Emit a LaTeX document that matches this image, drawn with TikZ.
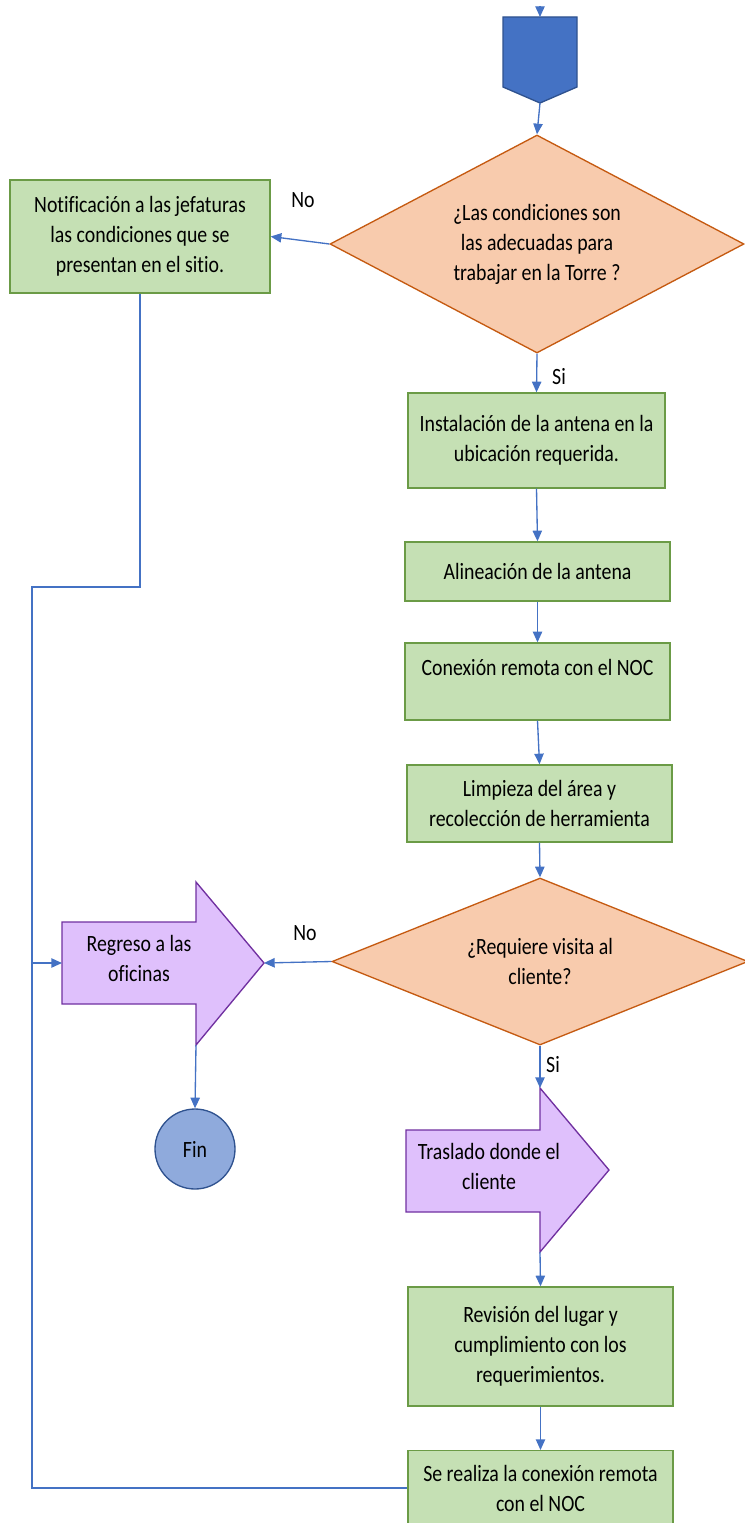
\documentclass[tikz,border=0pt]{standalone}
\usepackage{fontspec}
\setmainfont{Carlito}[FakeStretch=0.85, Ligatures=CommonOff]
\usetikzlibrary{arrows.meta,shapes.geometric}

\definecolor{boxgreen}{HTML}{C5E0B4}
\definecolor{boxgreenline}{HTML}{6B9B46}
\definecolor{decfill}{HTML}{F8CBAD}
\definecolor{decline}{HTML}{C55A11}
\definecolor{arrfill}{HTML}{DFC0FC}
\definecolor{arrline}{HTML}{7030A0}
\definecolor{connblue}{HTML}{4472C4}
\definecolor{pentline}{HTML}{2F528F}
\definecolor{finfill}{HTML}{8FAADC}

\tikzset{every picture/.style={line width=0.75pt},
	txt/.style={font=\fontsize{17.5pt}{22.5pt}\selectfont, align=center, text=black},
	stepbox/.style={txt, draw=boxgreenline, fill=boxgreen, line width=1pt, minimum width=198.75pt, inner sep=0pt},
	decision/.style={txt, diamond, aspect=1.9, draw=decline, fill=decfill, line width=1pt, inner sep=0pt},
	arrowbox/.style={draw=arrline, fill=arrfill, line width=1pt},
	conn/.style={draw=connblue, line width=1pt, -{Triangle[length=8pt,width=7pt]}},
	loopline/.style={draw=connblue, line width=1pt},
	tag/.style={txt}}

\begin{document}
\begin{tikzpicture}[x=0.75pt,y=0.75pt,yscale=-1,xscale=1]
	\useasboundingbox (0,0) rectangle (744,1523);

	%Shape: Off-page connector
	\draw [fill=connblue, draw=pentline, line width=1pt] (503,17) -- (577,17) -- (577,87) -- (540,103) -- (503,87) -- cycle ;
	\coordinate (topin) at (540,6);
	\coordinate (penttop) at (540,17);
	\coordinate (penttip) at (540,103);

	%Shape: Diamond
	\node [decision, minimum width=310.5pt, minimum height=163.5pt] (cond) at (537,244) {¿Las condiciones son\\las adecuadas para\\trabajar en la Torre ?};
	%Shape: Rectangle
	\node [stepbox, minimum width=195pt, minimum height=84.75pt] (notif) at (140,236.5) {Notificación a las jefaturas\\las condiciones que se\\presentan en el sitio.};
	\node [stepbox, minimum width=192.75pt, minimum height=71.25pt] (inst) at (536.5,440.5) {Instalación de la antena en la\\ubicación requerida.};
	\node [stepbox, minimum height=44.25pt] (alin) at (537.5,571.5) {Alineación de la antena};
	\node [stepbox, minimum height=57.75pt, text depth=21pt] (conex) at (537.5,681.5) {Conexión remota con el NOC};
	\node [stepbox, minimum height=57.75pt] (limp) at (539.5,803.5) {Limpieza del área y\\recolección de herramienta};
	%Shape: Diamond
	\node [decision, minimum width=312pt, minimum height=125.25pt] (visita) at (540,961.5) {¿Requiere visita al\\cliente?};

	%Shape: Right Arrow
	\draw [arrowbox] (62,922) -- (196,922) -- (196,882) -- (264,963) -- (196,1045) -- (196,1004) -- (62,1004) -- cycle ;
	\node [txt] (regreso) at (139,958) {Regreso a las\\oficinas};
	\coordinate (regleft) at (62,963);
	\coordinate (regtip) at (264,963);
	\coordinate (regbot) at (196,1045);

	%Shape: Circle
	\node [txt, circle, draw=pentline, fill=finfill, line width=1pt, minimum size=60pt, inner sep=0pt] (fin) at (195,1149) {Fin};

	%Shape: Right Arrow
	\draw [arrowbox] (406,1130) -- (540,1130) -- (540,1088) -- (609,1170) -- (540,1252) -- (540,1212) -- (406,1212) -- cycle ;
	\node [txt] (traslado) at (489,1166) {Traslado donde el\\cliente};
	\coordinate (trtop) at (540,1088);
	\coordinate (trbot) at (540,1252);

	%Shape: Rectangle
	\node [stepbox, minimum height=89.25pt] (revis) at (540.5,1346.5) {Revisión del lugar y\\cumplimiento con los\\requerimientos.};
	\node [stepbox, minimum height=56pt] (serea) at (540.5,1488) {Se realiza la conexión remota\\con el NOC};

	%Straight Lines
	\draw [conn] (topin) -- (penttop) ;
	\draw [conn] (penttip) -- (cond.north) ;
	\draw [conn] (cond.west) -- (notif.east) ;
	\draw [conn] (cond.south) -- (inst.north) ;
	\draw [conn] (inst.south) -- (alin.north) ;
	\draw [conn] (alin.south) -- (conex.north) ;
	\draw [conn] (conex.south) -- (limp.north) ;
	\draw [conn] (limp.south) -- (visita.north) ;
	\draw [conn] (visita.west) -- (regtip) ;
	\draw [conn] (regbot) -- (fin.north) ;
	\draw [conn] (visita.south) -- (trtop) ;
	\draw [conn] (trbot) -- (revis.north) ;
	\draw [conn] (revis.south) -- (serea.north) ;
	%Connector: return loop
	\coordinate (loopl) at (32,587);
	\draw [loopline] (notif.south) |- (loopl) |- (serea.west) ;
	\draw [conn] (loopl |- regleft) -- (regleft) ;

	% Text Node
	\node [tag] (no1) at (303,200) {No};
	% Text Node
	\node [tag] (si1) at (559,377) {Si};
	% Text Node
	\node [tag] (no2) at (305,933) {No};
	% Text Node
	\node [tag] (si2) at (553,1065) {Si};

\end{tikzpicture}
\end{document}
